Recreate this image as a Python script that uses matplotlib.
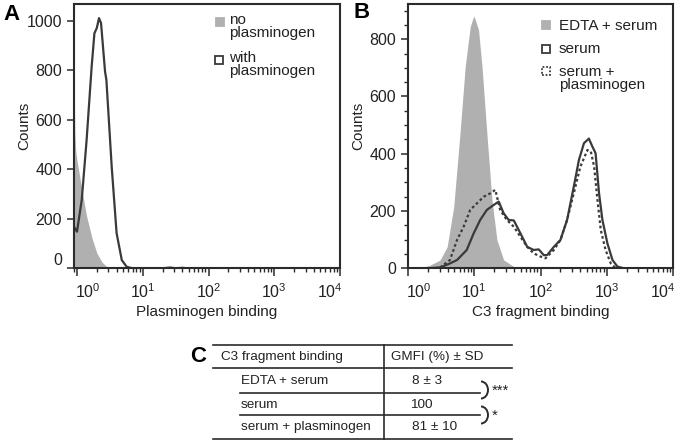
import numpy as np
import matplotlib
matplotlib.use('Agg')
import matplotlib.pyplot as plt
import matplotlib.transforms as mtrans
from matplotlib.patches import Rectangle, Arc
from matplotlib.lines import Line2D
from matplotlib.ticker import FixedLocator, MultipleLocator, LogLocator, NullFormatter

plt.rcParams['font.family'] = ['Liberation Sans', 'DejaVu Sans']
plt.rcParams['mathtext.fontset'] = 'custom'
plt.rcParams['mathtext.rm'] = 'Liberation Sans'

# panel A: plasminogen binding histograms
xA_none = [0.9, 0.91, 0.93, 0.96, 1.0, 1.2, 1.4, 1.7, 2.0, 2.4, 2.8, 3.5, 5.0, 10000]
yA_none = [1050, 700, 540, 470, 435, 310, 210, 120, 62, 25, 8, 2, 0, 0]
xA_with = [0.9, 1.0, 1.18, 1.4, 1.67, 1.84, 2.0, 2.16, 2.32, 2.67, 2.8, 3.37, 4.0,
           4.8, 5.7, 7.0, 20, 26, 32, 40, 48, 10000]
yA_with = [168, 148, 276, 518, 814, 949, 970, 1010, 990, 794, 760, 410, 142,
           33, 6, 0, 0, 3, 0, 2, 0, 0]

# panel B: C3 fragment binding histograms
xB_edta = [1.0, 1.5, 2.15, 3.05, 3.9, 4.9, 6.1, 7.3, 8.7, 9.8, 10.4, 11.6, 13.1,
           15.5, 18.5, 22, 27.8, 39.6, 63, 10000]
yB_edta = [0, 0, 11, 29, 75, 215, 472, 704, 844, 881, 867, 833, 704,
           472, 239, 99, 29, 6, 0, 0]
xB_serum = [1, 2.0, 3.05, 4.3, 5.5, 7.7, 9.8, 12.3, 15.5, 19.6, 23.4, 27.8, 33, 39.6,
            49.8, 63, 79, 94, 112, 126, 159, 200, 252, 318, 380, 453, 510, 537, 607,
            678, 765, 860, 1023, 1220, 1450, 1820, 10000]
yB_serum = [0, 0, 3, 17, 29, 64, 122, 169, 204, 221, 233, 192, 169, 167,
            122, 75, 64, 66, 46, 46, 75, 99, 169, 285, 378, 437, 448, 453, 425,
            402, 262, 169, 87, 29, 6, 0, 0]
xB_plg = [1, 2.5, 3.05, 4.3, 5.5, 6.9, 8.7, 11, 13.9, 17.5, 20.8, 24.6, 31, 39.6,
          49.8, 63, 79, 100, 119, 159, 200, 252, 318, 400, 510, 575, 645, 724, 812,
          960, 1150, 1370, 10000]
yB_plg = [0, 0, 3, 29, 99, 145, 204, 227, 250, 262, 274, 204, 169, 145,
          110, 75, 52, 41, 35, 64, 99, 169, 262, 355, 413, 408, 355, 239, 134,
          64, 17, 0, 0]

decades = [1, 10, 100, 1000, 10000]
decade_labels = [r'$\mathregular{10^{%d}}$' % i for i in range(5)]

# panel C table
table_rows = ['EDTA + serum', 'serum', 'serum + plasminogen']
table_vals = ['8 ± 3', '100', '81 ± 10']
table_header = ['C3 fragment binding', 'GMFI (%) ± SD']
stars = ['***', '*']

W, H = 676, 441
fill_col = '#b0b0b0'
line_col = '#3a3a3a'
spine_col = '#2b2b2b'
txt_col = '#222222'

fig = plt.figure(figsize=(W / 100, H / 100), dpi=100)


def fx(x):
    return x / W


def fy(y):
    return 1 - y / H


def shift(label, dx_px, dy_px=0):
    label.set_transform(label.get_transform() +
                        mtrans.ScaledTranslation(dx_px / 100, dy_px / 100, fig.dpi_scale_trans))


def style_axes(ax):
    for s in ax.spines.values():
        s.set_linewidth(1.5)
        s.set_color(spine_col)
    ax.set_xscale('log')
    ax.set_xticks(decades)
    ax.set_xticklabels(decade_labels)
    ax.xaxis.set_minor_locator(LogLocator(base=10, subs=np.arange(2, 10)))
    ax.xaxis.set_minor_formatter(NullFormatter())
    ax.tick_params(axis='both', which='major', direction='out', length=5, width=1.1,
                   color=spine_col, labelsize=11.5, labelcolor=txt_col)
    ax.tick_params(axis='x', which='major', length=6, pad=4)
    ax.tick_params(axis='both', which='minor', direction='out', length=3, width=1.0,
                   color=spine_col)
    ax.set_ylabel('Counts', fontsize=11, color=txt_col)
    ax.yaxis.set_label_coords(-0.16, 0.54)
    xt = ax.xaxis.get_major_ticks()
    shift(xt[0].label1, 11)
    shift(xt[-1].label1, -10)


axA = fig.add_axes([fx(74), fy(268.3), fx(340 - 74), (268.3 - 4) / H])
axA.fill_between(xA_none, yA_none, 0, color=fill_col, linewidth=0)
axA.plot(xA_with, yA_with, color=line_col, linewidth=1.6)
axA.set_xlim(0.9, 10000)
axA.set_ylim(0, 1067)
axA.yaxis.set_major_locator(FixedLocator([0, 200, 400, 600, 800, 1000]))
style_axes(axA)
axA.set_xlabel('Plasminogen binding', fontsize=11, color=txt_col)
axA.xaxis.set_label_coords(0.5, -0.14)
axA.yaxis.set_minor_locator(FixedLocator([]))

axB = fig.add_axes([fx(408), fy(268.3), fx(673 - 408), (268.3 - 4) / H])
axB.fill_between(xB_edta, yB_edta, 0, color=fill_col, linewidth=0)
axB.plot(xB_serum, yB_serum, color=line_col, linewidth=1.6)
axB.plot(xB_plg, yB_plg, color=line_col, linewidth=1.6, linestyle=(0, (1.2, 1.2)))
axB.set_xlim(1, 10000)
axB.set_ylim(0, 923)
axB.yaxis.set_major_locator(FixedLocator([0, 200, 400, 600, 800]))
axB.yaxis.set_minor_locator(MultipleLocator(50))
style_axes(axB)
axB.set_xlabel('C3 fragment binding', fontsize=11, color=txt_col)
axB.xaxis.set_label_coords(0.5, -0.14)

# lift the "0" label of panel A a little, as in the original
shift(axA.yaxis.get_major_ticks()[0].label1, 0, 9)

# panel letters
fig.text(fx(11), fy(15), 'A', fontsize=16, fontweight='bold', ha='center', va='center')
fig.text(fx(362), fy(12), 'B', fontsize=16, fontweight='bold', ha='center', va='center')
fig.text(fx(198), fy(356), 'C', fontsize=16, fontweight='bold', ha='center', va='center')

# legends
leg_fs = 11


def legend_box(x, y, face, ls='-'):
    fig.add_artist(Rectangle((fx(x), fy(y + 8)), 8 / W, 8 / H, transform=fig.transFigure,
                             facecolor=face, edgecolor=line_col if face == 'white' else face,
                             linewidth=1.3, linestyle=ls))


legend_box(216, 18, fill_col)
fig.text(fx(229), fy(24), 'no', fontsize=leg_fs, va='baseline', color=txt_col)
fig.text(fx(229), fy(37), 'plasminogen', fontsize=leg_fs, va='baseline', color=txt_col)
legend_box(215, 56, 'white')
fig.text(fx(229), fy(62), 'with', fontsize=leg_fs, va='baseline', color=txt_col)
fig.text(fx(229), fy(75.5), 'plasminogen', fontsize=leg_fs, va='baseline', color=txt_col)

legend_box(542, 21, fill_col)
fig.text(fx(559), fy(30), 'EDTA + serum', fontsize=leg_fs, va='baseline', color=txt_col)
legend_box(542, 45, 'white')
fig.text(fx(559), fy(53), 'serum', fontsize=leg_fs, va='baseline', color=txt_col)
legend_box(542, 67, 'white', ls=(0, (1, 1)))
fig.text(fx(559), fy(76), 'serum +', fontsize=leg_fs, va='baseline', color=txt_col)
fig.text(fx(559), fy(89), 'plasminogen', fontsize=leg_fs, va='baseline', color=txt_col)


# table C
def hline(x0, x1, y):
    fig.add_artist(Line2D([fx(x0), fx(x1)], [fy(y), fy(y)], transform=fig.transFigure,
                          color=spine_col, linewidth=1.2))


tab_fs = 9.7
hline(213, 512, 345)
hline(213, 512, 367.5)
hline(240, 480, 392.5)
hline(240, 480, 415)
hline(213, 512, 438.5)
fig.add_artist(Line2D([fx(383.5), fx(383.5)], [fy(345), fy(438.5)], transform=fig.transFigure,
                      color=spine_col, linewidth=1.2))
fig.text(fx(221), fy(357), table_header[0], fontsize=tab_fs, va='center', color=txt_col)
fig.text(fx(391), fy(357), table_header[1], fontsize=tab_fs, va='center', color=txt_col)
row_y = [381.5, 405, 427]
val_x = [427.5, 421, 435]
for name, val, y, xv in zip(table_rows, table_vals, row_y, val_x):
    fig.text(fx(241), fy(y), name, fontsize=tab_fs, va='center', color=txt_col)
    fig.text(fx(xv), fy(y), val, fontsize=tab_fs, va='center', ha='center', color=txt_col)

# significance brackets
for (y0, y1), s in zip([(381.5, 398.5), (406.5, 423.5)], stars):
    cy = (y0 + y1) / 2
    fig.add_artist(Arc((fx(481), fy(cy)), 14 / W, (y1 - y0) / H, theta1=-90, theta2=90,
                       transform=fig.transFigure, color=spine_col, linewidth=1.4))
    fig.text(fx(492), fy(cy + 1), s, fontsize=tab_fs + 1, va='center', ha='left', color=txt_col)

plt.savefig('out.png', dpi=100)
